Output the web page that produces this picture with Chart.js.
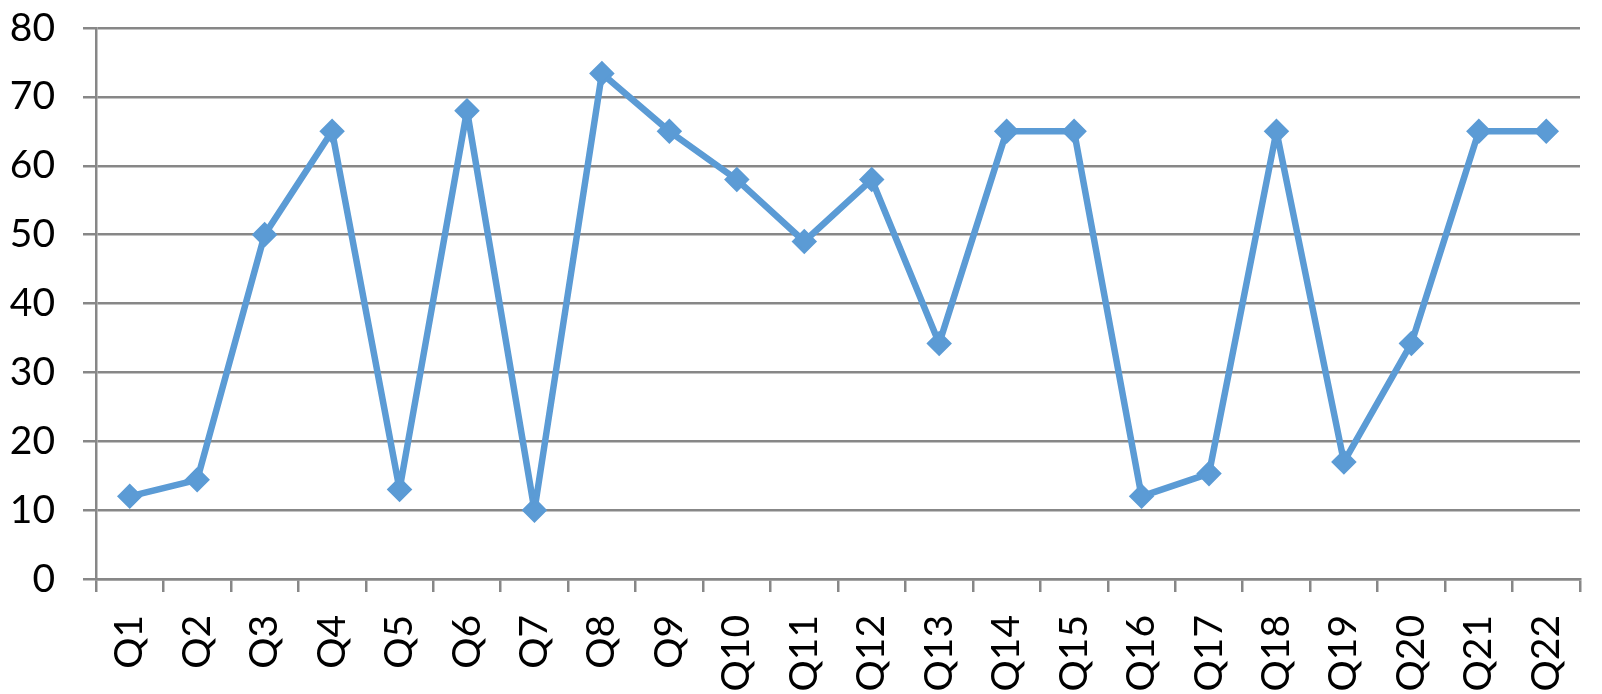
<!DOCTYPE html>
<html>
<head>
<meta charset="utf-8">
<script src="https://cdn.jsdelivr.net/npm/chart.js@4/dist/chart.umd.min.js"></script>
<style>
  html, body { margin: 0; padding: 0; background: #fff; }
  #chart { display: block; }
</style>
</head>
<body>
<canvas id="chart" width="1602" height="694"></canvas>
<script>
// valores
var etiquetas = ["Q1","Q2","Q3","Q4","Q5","Q6","Q7","Q8","Q9","Q10","Q11",
                 "Q12","Q13","Q14","Q15","Q16","Q17","Q18","Q19","Q20","Q21","Q22"];
var valores = [12, 14.4, 50, 65, 13, 68, 10, 73.4, 65, 58, 49,
               58, 34.2, 65, 65, 12, 15.3, 65, 17, 34.2, 65, 65];
var ejeYMin = 0, ejeYMax = 80, ejeYPaso = 10;

var gris = "#878787";
var azul = "#5B9BD5";
var fuente = { family: "Lato, 'Liberation Sans', sans-serif", size: 39 };

var ctx = document.getElementById("chart");
var grafico = new Chart(ctx, {
    type: "line",
    data: {
        labels: etiquetas,
        datasets: [{
            label: "Serie 1",
            data: valores,
            fill: false,
            borderColor: azul,
            backgroundColor: azul,
            borderWidth: 6.5,
            borderJoinStyle: "round",
            borderCapStyle: "round",
            tension: 0,
            pointStyle: "rectRot",
            pointRadius: 11,
            pointBorderWidth: 2.5,
            pointBackgroundColor: azul,
            pointBorderColor: azul
        }]
    },
    options: {
        responsive: false,
        animation: false,
        devicePixelRatio: 1,
        layout: { padding: { top: 28, right: 22, left: 0, bottom: 0 } },
        plugins: {
            legend: { display: false },
            tooltip: { enabled: false }
        },
        scales: {
            x: {
                offset: true,
                grid: {
                    display: true,
                    offset: true,
                    drawOnChartArea: false,
                    drawTicks: true,
                    tickLength: 13,
                    color: gris,
                    lineWidth: 2.5
                },
                border: { display: true, color: gris, width: 2.5 },
                ticks: {
                    color: "#000",
                    font: fuente,
                    minRotation: 90,
                    maxRotation: 90,
                    padding: 23,
                    autoSkip: false
                },
                afterFit: function(scale){
                    scale.height = 115;
                    scale.paddingLeft = 0;
                    scale.paddingRight = 0;
                }
            },
            y: {
                min: ejeYMin,
                max: ejeYMax,
                grid: {
                    color: gris,
                    lineWidth: 2.5,
                    tickLength: 13
                },
                border: { display: true, color: gris, width: 2.5 },
                ticks: {
                    stepSize: ejeYPaso,
                    color: "#000",
                    font: fuente,
                    padding: 28
                },
                afterFit: function(scale){
                    scale.width = 96;
                    scale.paddingTop = 0;
                    scale.paddingBottom = 0;
                }
            }
        }
    }
});
</script>
</body>
</html>
